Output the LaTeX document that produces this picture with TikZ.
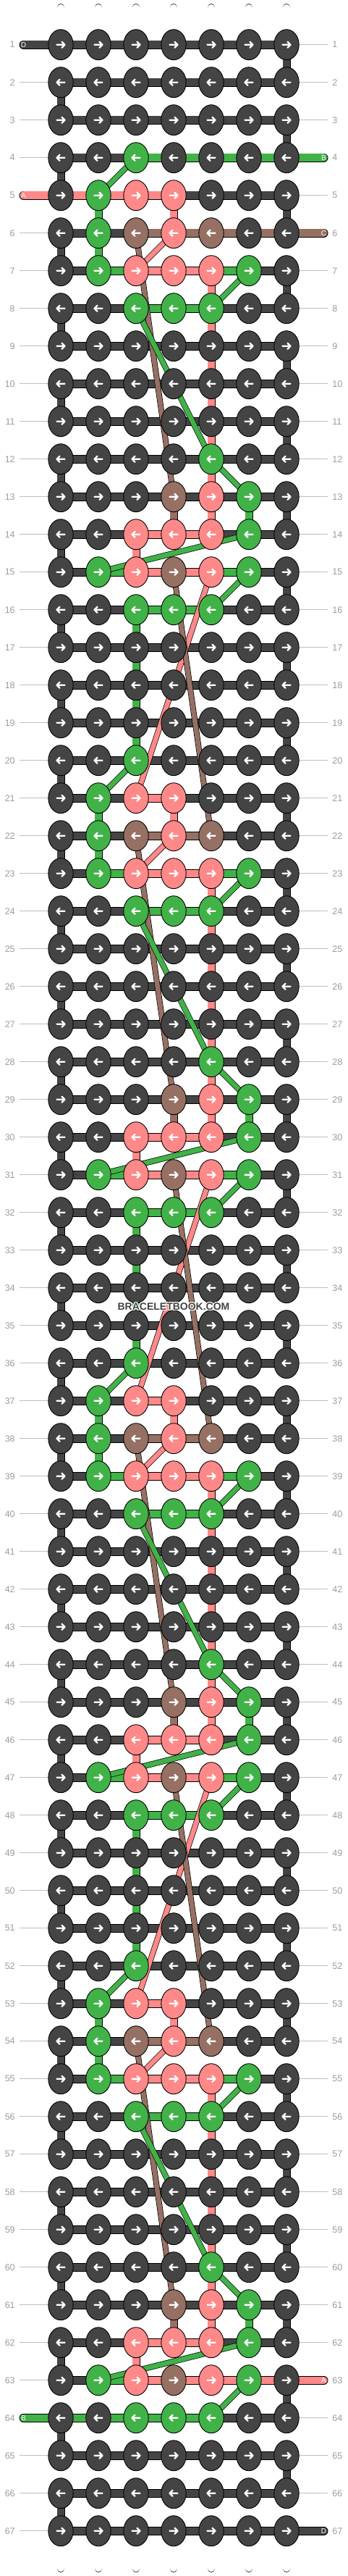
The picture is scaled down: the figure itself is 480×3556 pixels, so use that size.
\documentclass[tikz,border=0pt]{standalone}
\usepackage{fontspec}
\setmainfont{Liberation Sans}
\usetikzlibrary{shapes.geometric}

\definecolor{fondo}{RGB}{68,68,68}
\definecolor{verde}{RGB}{65,178,72}
\definecolor{rosa}{RGB}{255,136,136}
\definecolor{marron}{RGB}{150,112,99}
\definecolor{numero}{RGB}{155,155,155}
\definecolor{guia}{RGB}{190,190,190}

\pgfdeclarelayer{hilos}
\pgfdeclarelayer{barras}
\pgfdeclarelayer{diagonales}
\pgfdeclarelayer{encima}
\pgfsetlayers{hilos,barras,diagonales,main,encima}

% colores del periodo (16 filas, la fila 4 es k=0)
\def\nudo#1#2#3{\expandafter\def\csname nu-#1-#2\endcsname{#3}}
\def\barra#1#2#3{\expandafter\def\csname ba-#1-#2\endcsname{#3}}
\def\tramo#1#2#3{\expandafter\def\csname tr-#1-#2\endcsname{#3}}

\nudo{0}{3}{verde}
\nudo{1}{2}{verde}\nudo{1}{3}{rosa}\nudo{1}{4}{rosa}
\nudo{2}{2}{verde}\nudo{2}{3}{marron}\nudo{2}{4}{rosa}\nudo{2}{5}{marron}
\nudo{3}{2}{verde}\nudo{3}{3}{rosa}\nudo{3}{4}{rosa}\nudo{3}{5}{rosa}\nudo{3}{6}{verde}
\nudo{4}{3}{verde}\nudo{4}{4}{verde}\nudo{4}{5}{verde}
\nudo{8}{5}{verde}
\nudo{9}{4}{marron}\nudo{9}{5}{rosa}\nudo{9}{6}{verde}
\nudo{10}{3}{rosa}\nudo{10}{4}{rosa}\nudo{10}{5}{rosa}\nudo{10}{6}{verde}
\nudo{11}{2}{verde}\nudo{11}{3}{rosa}\nudo{11}{4}{marron}\nudo{11}{5}{rosa}\nudo{11}{6}{verde}
\nudo{12}{3}{verde}\nudo{12}{4}{verde}\nudo{12}{5}{verde}

\barra{1}{3}{rosa}
\barra{2}{3}{marron}\barra{2}{4}{marron}
\barra{3}{2}{verde}\barra{3}{3}{rosa}\barra{3}{4}{rosa}\barra{3}{5}{verde}
\barra{4}{3}{verde}\barra{4}{4}{verde}
\barra{10}{3}{rosa}\barra{10}{4}{rosa}
\barra{11}{2}{verde}\barra{11}{3}{rosa}\barra{11}{4}{rosa}\barra{11}{5}{verde}
\barra{12}{3}{verde}\barra{12}{4}{verde}
% filas de entrada y salida
\barra{f4}{3}{verde}\barra{f4}{4}{verde}\barra{f4}{5}{verde}\barra{f4}{6}{verde}
\barra{f5}{1}{rosa}\barra{f5}{2}{rosa}
\barra{f6}{5}{marron}\barra{f6}{6}{marron}
\barra{f63}{5}{rosa}\barra{f63}{6}{rosa}
\barra{f64}{1}{verde}\barra{f64}{2}{verde}

\tramo{1}{2}{verde}\tramo{1}{4}{rosa}
\tramo{2}{2}{verde}
\tramo{3}{5}{rosa}\tramo{4}{5}{rosa}\tramo{5}{5}{rosa}
\tramo{6}{5}{rosa}\tramo{7}{5}{rosa}\tramo{8}{5}{rosa}
\tramo{9}{4}{marron}\tramo{9}{5}{rosa}\tramo{9}{6}{verde}
\tramo{10}{3}{rosa}
\tramo{12}{3}{verde}\tramo{13}{3}{verde}\tramo{14}{3}{verde}\tramo{15}{3}{verde}

\begin{document}
\begin{tikzpicture}[x=1pt, y=-1pt,
  nudo/.style={ellipse, draw=black, line width=0.9pt, fill=#1,
    minimum width=34.4pt, minimum height=42pt, inner sep=0pt},
  flecha/.style={white, line width=2.3pt, line cap=round, line join=round},
  barra/.style={draw=black, line width=0.8pt, double=#1, double distance=10.4pt},
  tramo/.style={draw=black, line width=0.8pt, double=#1, double distance=9.4pt},
  diagonal/.style={draw=black, line width=0.7pt, double=#1, double distance=6.6pt},
  hilo/.style={draw=black, line width=0.8pt, double=white, double distance=9.1pt, line cap=round},
  num/.style={text=numero, font=\fontsize{12.5}{12.5}\selectfont, inner sep=0pt, outer xsep=6pt},
  guia/.style={draw=guia, line width=1pt},
  letra/.style={text=white, font=\fontsize{10}{10}\selectfont, inner sep=0pt},
  marca/.style={font=\fontsize{14}{14}\selectfont\bfseries, inner sep=0pt}]
\useasboundingbox (0,0) rectangle (480,3556);

% nudos
\foreach \r in {1,...,67}{
  \pgfmathtruncatemacro\k{mod(\r+12,16)}
  \ifodd\r \def\sentido{1}\else\def\sentido{-1}\fi
  \foreach \c in {1,...,7}{
    \def\col{fondo}
    \ifcsname nu-\k-\c\endcsname \edef\col{\csname nu-\k-\c\endcsname}\fi
    \node[nudo=\col] (k-\r-\c) at ({84+52*(\c-1)},{61.7+52*(\r-1)}) {};
    \draw[flecha] (k-\r-\c.center) ++(-5.5*\sentido,0) -- ++(11*\sentido,0)
      ++(-4*\sentido,-4) -- ++(4*\sentido,4) -- ++(-4*\sentido,4);
  }
}

% hilos blancos
\begin{pgfonlayer}{hilos}
\foreach \c in {1,...,7}{
  \coordinate (t-\c) at ({84+52*(\c-1)},10.4);
  \coordinate (b-\c) at ({84+52*(\c-1)},3545.6);
  \draw[hilo] (t-\c) -- (b-\c);
}
\end{pgfonlayer}

\begin{pgfonlayer}{barras}
% tramos verticales
\foreach \r in {1,...,66}{
  \pgfmathtruncatemacro\s{\r+1}
  \pgfmathtruncatemacro\k{mod(\r+12,16)}
  \ifodd\r \def\e{7}\else\def\e{1}\fi
  \draw[tramo=fondo] (k-\r-\e.center) -- (k-\s-\e.center);
  \ifnum\r>3 \ifnum\r<64
    \foreach \c in {2,...,6}{
      \ifcsname tr-\k-\c\endcsname
        \edef\col{\csname tr-\k-\c\endcsname}
        \draw[tramo=\col] (k-\r-\c.center) -- (k-\s-\c.center);
      \fi
    }
  \fi\fi
}
% barras horizontales
\foreach \r in {1,...,67}{
  \pgfmathtruncatemacro\k{mod(\r+12,16)}
  \foreach \c in {1,...,6}{
    \pgfmathtruncatemacro\cc{\c+1}
    \def\col{fondo}
    \ifcsname ba-\k-\c\endcsname \edef\col{\csname ba-\k-\c\endcsname}\fi
    \ifcsname ba-f\r-\c\endcsname \edef\col{\csname ba-f\r-\c\endcsname}\fi
    \draw[barra=\col] (k-\r-\c.center) -- (k-\r-\cc.center);
  }
}
% extremos con letra
\foreach \r/\lado/\col/\letra in {1/1/fondo/D, 4/7/verde/B, 5/1/rosa/A, 6/7/marron/C,
    63/7/rosa/A, 64/1/verde/B, 67/7/fondo/D}{
  \expandafter\gdef\csname ex-\r-\lado\endcsname{}
  \ifnum\lado=1
    \coordinate (e-\r) at (32.5,{61.7+52*(\r-1)});
  \else
    \coordinate (e-\r) at (447.5,{61.7+52*(\r-1)});
  \fi
  \draw[barra=\col, line cap=round] (e-\r) -- (k-\r-\lado.center);
  \node[letra] (l-\r) at (e-\r) {\letra};
}
% numeros de fila
\foreach \r in {1,...,67}{
  \node[num, anchor=east] (n-\r) at (26.7,{61.7+52*(\r-1)}) {\r};
  \node[num, anchor=west] (m-\r) at (453.3,{61.7+52*(\r-1)}) {\r};
  \ifcsname ex-\r-1\endcsname\else \draw[guia] (n-\r.east) -- (k-\r-1.west);\fi
  \ifcsname ex-\r-7\endcsname\else \draw[guia] (k-\r-7.east) -- (m-\r.west);\fi
}
\end{pgfonlayer}

% hilos que cruzan en diagonal
\begin{pgfonlayer}{diagonales}
\foreach \b in {4,20,36,52}{
  \pgfmathtruncatemacro\uno{\b+1}
  \pgfmathtruncatemacro\dos{\b+2}
  \pgfmathtruncatemacro\tres{\b+3}
  \pgfmathtruncatemacro\cuatro{\b+4}
  \pgfmathtruncatemacro\ocho{\b+8}
  \pgfmathtruncatemacro\nueve{\b+9}
  \pgfmathtruncatemacro\diez{\b+10}
  \pgfmathtruncatemacro\once{\b+11}
  \pgfmathtruncatemacro\doce{\b+12}
  \draw[diagonal=marron] (k-\dos-3.center) -- (k-\nueve-4.center);
  \draw[diagonal=rosa] (k-\dos-4.center) -- (k-\tres-3.center);
  \draw[diagonal=verde] (k-\b-3.center) -- (k-\uno-2.center);
  \draw[diagonal=verde] (k-\tres-6.center) -- (k-\cuatro-5.center);
  \draw[diagonal=verde] (k-\cuatro-3.center) -- (k-\ocho-5.center);
  \draw[diagonal=verde] (k-\ocho-5.center) -- (k-\nueve-6.center);
  \draw[diagonal=verde] (k-\diez-6.center) -- (k-\once-2.center);
  \draw[diagonal=verde] (k-\once-6.center) -- (k-\doce-5.center);
  \ifnum\b<52
    \pgfmathtruncatemacro\diecisiete{\b+17}
    \pgfmathtruncatemacro\dieciocho{\b+18}
    \draw[diagonal=rosa] (k-\once-5.center) -- (k-\diecisiete-3.center);
    \draw[diagonal=marron] (k-\once-4.center) -- (k-\dieciocho-5.center);
  \fi
}
\end{pgfonlayer}

\begin{pgfonlayer}{encima}
\foreach \dx/\dy in {-1/-1,-1/0,-1/1,0/-1,0/1,1/-1,1/0,1/1}
  \node[marca, text=white] at (240+\dx,1803.7+\dy) {BRACELETBOOK.COM};
\node[marca, text=fondo] (marca) at (240,1803.7) {BRACELETBOOK.COM};
\end{pgfonlayer}
\end{tikzpicture}
\end{document}
